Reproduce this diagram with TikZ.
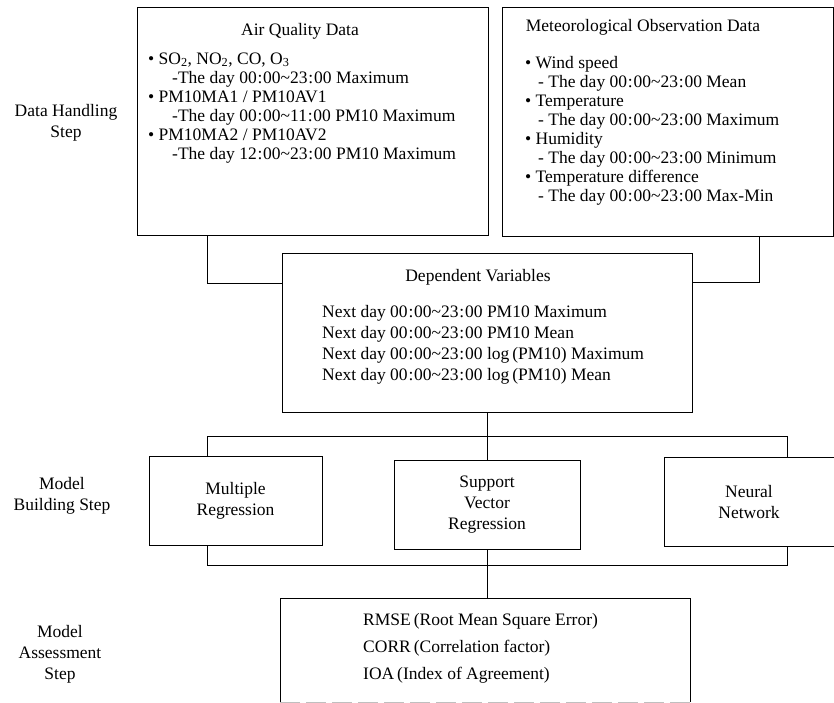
\documentclass[tikz,border=0pt]{standalone}
\usepackage{fontspec}
\setmainfont{Liberation Serif}
\newcommand{\mycln}{\kern0.8pt:\kern0.8pt}
\newcommand{\mytld}{\textasciitilde}
\begin{document}
\begin{tikzpicture}[x=1pt,y=-1pt,
  font=\fontsize{17.5}{21}\selectfont,
  box/.style={draw, line width=0.9pt, inner sep=0, anchor=north west},
  txt/.style={inner sep=0, anchor=mid west},
  ctr/.style={inner sep=0, anchor=center, align=center},
  conn/.style={line width=0.9pt}]
\useasboundingbox (0,0) rectangle (834,703);
\fill[white] (0,0) rectangle (834,703);

% boxes
\node[box, minimum width=351, minimum height=228] (air) at (137,7) {};
\node[box, minimum width=331, minimum height=229] (met) at (502,7) {};
\node[box, minimum width=410, minimum height=159] (dep) at (282,253) {};
\node[box, minimum width=173, minimum height=89] (mr) at (149,456) {};
\node[box, minimum width=186, minimum height=89] (svr) at (394,460) {};
\node[box, minimum width=175, minimum height=89] (nn) at (664,457) {};
\node[inner sep=0, anchor=north west, minimum width=410, minimum height=104] (ass) at (280,598) {};
\draw[conn] (ass.south west) -- (ass.north west) -- (ass.north east) -- (ass.south east);
\draw[black!25, line width=0.8pt, dash pattern=on 20pt off 6pt] (ass.south west) -- (ass.south east);

% step labels
\node[ctr] (lab1) at (66,123) {Data Handling\\Step};
\node[ctr] (lab2) at (62,496) {Model\\Building Step};
\node[ctr] (lab3) at (60,654) {Model\\Assessment\\Step};

% air quality
\node[ctr] (airT) at (300,31) {Air Quality Data};
\node[txt] (a1) at (148,62) {\textbullet\ SO\textsubscript{2}, NO\textsubscript{2}, CO, O\textsubscript{3}};
\node[txt] (a2) at (172,81) {-The day 00\mycln00\mytld23\mycln00 Maximum};
\node[txt] (a3) at (148,100) {\textbullet\ PM10MA1 / PM10AV1};
\node[txt] (a4) at (172,119) {-The day 00\mycln00\mytld11\mycln00 PM10 Maximum};
\node[txt] (a5) at (148,138) {\textbullet\ PM10MA2 / PM10AV2};
\node[txt] (a6) at (172,157) {-The day 12\mycln00\mytld23\mycln00 PM10 Maximum};

% meteorological
\node[ctr] (metT) at (643,27) {Meteorological Observation Data};
\node[txt] (m1) at (525,66) {\textbullet\ Wind speed};
\node[txt] (m2) at (538,85) {- The day 00\mycln00\mytld23\mycln00 Mean};
\node[txt] (m3) at (525,104) {\textbullet\ Temperature};
\node[txt] (m4) at (538,123) {- The day 00\mycln00\mytld23\mycln00 Maximum};
\node[txt] (m5) at (525,142) {\textbullet\ Humidity};
\node[txt] (m6) at (538,161) {- The day 00\mycln00\mytld23\mycln00 Minimum};
\node[txt] (m7) at (525,180) {\textbullet\ Temperature difference};
\node[txt] (m8) at (538,199) {- The day 00\mycln00\mytld23\mycln00 Max-Min};

% dependent variables
\node[ctr] (depT) at (478,277) {Dependent Variables};
\node[txt] (d1) at (322,315) {Next day 00\mycln00\mytld23\mycln00 PM10 Maximum};
\node[txt] (d2) at (322,336) {Next day 00\mycln00\mytld23\mycln00 PM10 Mean};
\node[txt] (d3) at (322,357) {Next day 00\mycln00\mytld23\mycln00 log\,(PM10) Maximum};
\node[txt] (d4) at (322,378) {Next day 00\mycln00\mytld23\mycln00 log\,(PM10) Mean};

% models
\node[ctr] (mrT) at (235.5,500.5) {Multiple\\Regression};
\node[ctr] (svrT) at (487,504.5) {Support\\Vector\\Regression};
\node[ctr] (nnT) at (749,502) {Neural\\Network};

% assessment
\node[txt] (r1) at (363,623) {RMSE\,(Root Mean Square Error)};
\node[txt] (r2) at (363,650) {CORR\,(Correlation factor)};
\node[txt] (r3) at (363,677) {IOA\,(Index of Agreement)};

% connectors
\coordinate (jl) at (207,283);
\coordinate (jr) at (759,282);
\draw[conn] (air.south -| jl) -- (jl) -- (dep.west |- jl);
\draw[conn] (met.south -| jr) -- (jr) -- (dep.east |- jr);
\draw[conn] (dep.south) -- (svr.north);
\coordinate (tl) at (207,436);
\coordinate (tr) at (787,436);
\draw[conn] (mr.north -| tl) -- (tl) -- (tr) -- (nn.north -| tr);
\coordinate (bl) at (207,565);
\coordinate (br) at (787,565);
\draw[conn] (mr.south -| bl) -- (bl) -- (br) -- (nn.south -| br);
\draw[conn] (svr.south) -- (ass.north -| svr.south);
\end{tikzpicture}
\end{document}
